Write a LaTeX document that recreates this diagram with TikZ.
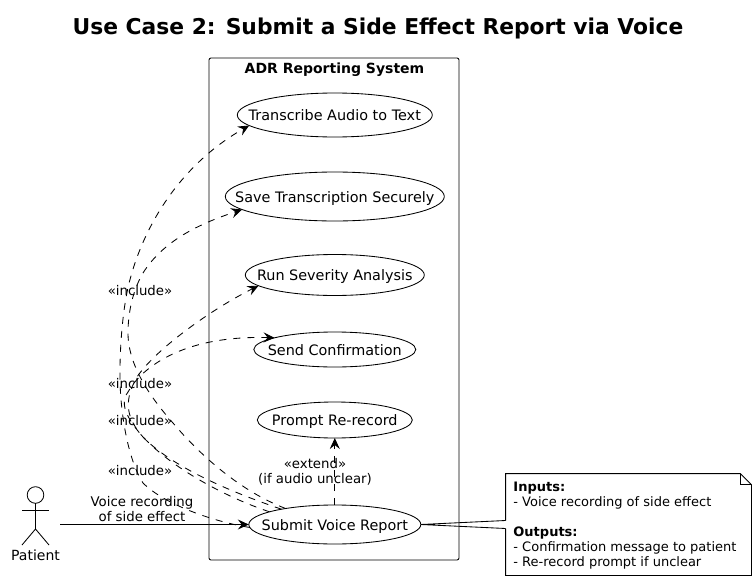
\documentclass[tikz,border=0pt]{standalone}
\usepackage{fontspec}
\setmainfont{DejaVu Sans}
\usetikzlibrary{arrows.meta,calc,shapes.geometric}

\tikzset{
	usecase/.style={draw,ellipse,inner sep=-30pt,outer sep=0pt,text height=13.5pt,text depth=2.5pt},
	incl/.style={dashed,dash pattern=on 7pt off 7pt,-{Stealth[length=11pt,width=10pt,inset=4pt]}},
	tag/.style={align=center,font=\fontsize{13.3}{15}\selectfont,inner sep=0pt}
}

\begin{document}
\begin{tikzpicture}[x=1pt,y=-1pt,line width=0.85pt,font=\fontsize{14.4}{15}\selectfont]
	\useasboundingbox (0,0) rectangle (756,581);

	\node[font=\bfseries\fontsize{21.8}{24}\selectfont] (heading) at (378,28) {Use Case 2: Submit a Side Effect Report via Voice};

	\draw[rounded corners=2pt] (209,58) rectangle (459,560);
	\node[font=\bfseries\fontsize{14}{15}\selectfont] (boxname) at (334.5,69.5) {ADR Reporting System};

	\foreach \name/\cy/\wdth/\hght/\txt in
	{transcribe/115/195/44/Transcribe Audio to Text,
	save/196.5/219/49/Save Transcription Securely,
	run/275/179/41/Run Severity Analysis,
	send/349.5/162/35/Send Confirmation,
	prompt/420/155/36/Prompt Re-record,
	submit/524.5/172/39/Submit Voice Report}
		\node[usecase,minimum width=\wdth pt,minimum height=\hght pt] (\name) at (334.8,\cy) {\txt};

	% actor
	\draw (35.5,495) circle (8.3pt);
	\draw (35.5,503.3) -- (35.5,529) (22,510.5) -- (49,510.5);
	\draw (22,545) -- (35.5,529) -- (49,545);
	\node[font=\fontsize{14}{15}\selectfont] (patient) at (35.5,555) {Patient};
	\coordinate (patientside) at (60,524.5);

	\draw[-{Stealth[length=11pt,width=10pt,inset=4pt]}] (patientside) -- (submit.west);
	\node[tag] (voicelabel) at (142,509) {Voice recording\\of side effect};

	% include links
	\draw[incl] (submit.182) .. controls (215,522) and (165,505) .. (143,483)
		.. controls (128,460) and (119,410) .. (120,367)
		.. controls (120.5,335) and (124,300) .. (130.7,277)
		.. controls (145,225) and (180,165) .. (transcribe.187);
	\draw[incl] (submit.162) .. controls (240,491) and (200,455) .. (173,423)
		.. controls (150,397) and (128,365) .. (128,333)
		.. controls (128,312) and (133,290) .. (143,273)
		.. controls (165,238) and (205,222) .. (save.188.6);
	\draw[incl] (submit.164) .. controls (240,495) and (175,470) .. (143,437)
		.. controls (128,420) and (122,403) .. (137,377)
		.. controls (155,350) and (210,310) .. (run.188);
	\draw[incl] (submit.169) .. controls (225,497) and (172,468) .. (143,437)
		.. controls (130,422) and (118,405) .. (128,392)
		.. controls (140,370) and (180,335) .. (send.169);
	\draw[incl] (submit.north) -- (prompt.south);

	\node[tag] (incla) at (140,291) {«include»};
	\node[tag] (inclb) at (140,384) {«include»};
	\node[tag] (inclc) at (140,421) {«include»};
	\node[tag] (incld) at (140,471) {«include»};
	\node[tag] (extendlabel) at (315,472) {«extend»\\(if audio unclear)};

	% note with its fold
	\node[minimum width=245pt,minimum height=101pt,inner sep=0pt] (note) at (628.5,524.5) {};
	\node[anchor=north west,align=left,inner sep=0pt,font=\fontsize{13}{15}\selectfont] (notetext) at (513,482) {\textbf{Inputs:}\\- Voice recording of side effect\\[15pt]\textbf{Outputs:}\\- Confirmation message to patient\\- Re-record prompt if unclear};
	\coordinate (notetop) at ($(note.west)+(0,-4)$);
	\coordinate (notelow) at ($(note.west)+(0,4)$);
	\draw (notetop) -- (note.north west) -- ($(note.north east)+(-11,0)$) -- ($(note.north east)+(0,11)$) -- (note.south east) -- (note.south west) -- (notelow);
	\draw ($(note.north east)+(-11,0)$) -- ($(note.north east)+(-11,11)$) -- ($(note.north east)+(0,11)$);
	\draw (notetop) -- (submit.east) -- (notelow);
\end{tikzpicture}
\end{document}
